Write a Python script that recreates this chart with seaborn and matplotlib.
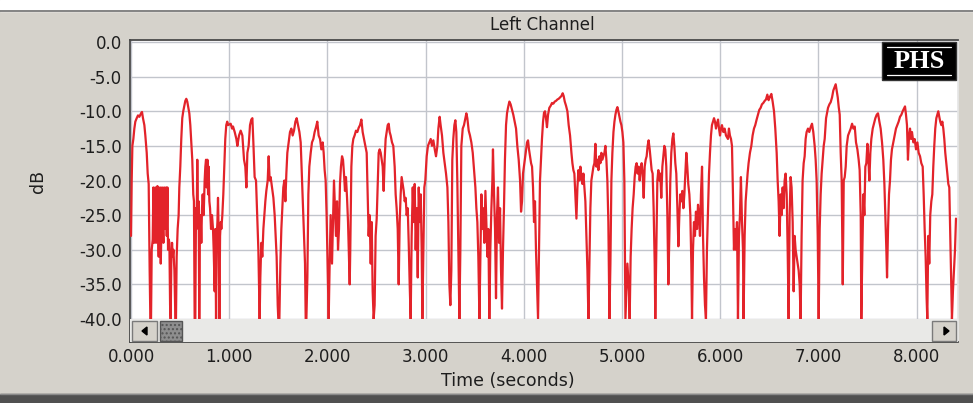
import numpy as np
import pandas as pd
import matplotlib.pyplot as plt
import seaborn as sns
from matplotlib.patches import Rectangle, Polygon
from matplotlib.lines import Line2D

# level readings (time in seconds, level in dB), one list per second of audio
sec_0 = [(0.000, -28), (0.007, -20), (0.014, -15), (0.024, -14), (0.034, -12.5), (0.044, -11.5), (0.058, -11),
         (0.071, -10.6), (0.085, -10.8), (0.102, -10.3), (0.112, -10.1), (0.122, -11), (0.136, -12), (0.146, -13.5),
         (0.160, -16), (0.170, -19), (0.180, -20.5), (0.190, -33), (0.197, -40), (0.204, -40), (0.211, -30),
         (0.221, -28.5), (0.228, -21), (0.235, -29), (0.242, -26), (0.248, -21), (0.255, -29), (0.262, -25),
         (0.269, -20.8), (0.276, -28), (0.282, -31), (0.289, -26), (0.296, -21), (0.303, -32), (0.310, -27),
         (0.316, -21), (0.323, -26), (0.330, -29), (0.337, -21), (0.343, -27), (0.350, -25), (0.357, -21),
         (0.364, -28), (0.371, -21), (0.377, -30), (0.384, -28.5), (0.391, -29), (0.398, -38), (0.404, -40),
         (0.411, -31), (0.418, -29), (0.425, -31), (0.432, -30), (0.442, -33), (0.452, -40), (0.458, -40),
         (0.465, -31), (0.475, -27), (0.485, -25), (0.492, -21), (0.502, -18), (0.512, -14), (0.522, -11),
         (0.532, -10), (0.543, -9.2), (0.553, -8.5), (0.563, -8.2), (0.573, -8.6), (0.584, -9.5), (0.594, -10.3),
         (0.604, -12), (0.614, -14.5), (0.624, -17), (0.634, -22), (0.641, -23), (0.648, -40), (0.655, -40),
         (0.662, -24), (0.668, -27), (0.675, -17), (0.682, -25), (0.689, -23), (0.695, -40), (0.702, -27),
         (0.709, -25), (0.716, -29), (0.723, -24), (0.730, -22), (0.740, -25), (0.750, -20), (0.757, -18),
         (0.764, -17), (0.771, -21), (0.778, -17), (0.785, -22), (0.791, -18), (0.798, -23), (0.805, -24),
         (0.815, -27), (0.825, -25), (0.835, -27), (0.842, -30), (0.852, -36), (0.859, -27), (0.866, -40),
         (0.873, -28), (0.880, -26), (0.886, -22.5), (0.893, -28), (0.900, -40), (0.907, -28), (0.914, -26),
         (0.920, -27), (0.930, -25), (0.940, -22), (0.950, -18), (0.960, -14), (0.970, -12), (0.980, -11.5)]

sec_1 = [(0.988, -12), (1.015, -11.8), (1.029, -12.5), (1.039, -12.2), (1.056, -13), (1.073, -14), (1.083, -15),
         (1.100, -13.5), (1.117, -12.8), (1.134, -13.5), (1.151, -17), (1.164, -18), (1.175, -21), (1.185, -16),
         (1.198, -15), (1.212, -12), (1.225, -11.2), (1.236, -11), (1.246, -14.5), (1.259, -19.5), (1.273, -20),
         (1.287, -26), (1.297, -30), (1.304, -35), (1.310, -40), (1.317, -34), (1.327, -29), (1.337, -31),
         (1.348, -27), (1.358, -25), (1.368, -23), (1.378, -21.5), (1.392, -20), (1.402, -16.5), (1.412, -20),
         (1.422, -19.5), (1.436, -21), (1.450, -22.5), (1.463, -25), (1.473, -28), (1.483, -31), (1.494, -38),
         (1.500, -40), (1.511, -40), (1.521, -32), (1.531, -27), (1.541, -24), (1.551, -21), (1.562, -20),
         (1.572, -23), (1.582, -19), (1.592, -16), (1.606, -14.5), (1.619, -13), (1.633, -12.5), (1.646, -13.5),
         (1.660, -12.8), (1.674, -11.5), (1.687, -11), (1.701, -12), (1.715, -13), (1.728, -14.5), (1.742, -20),
         (1.752, -24), (1.762, -28), (1.772, -32), (1.779, -40), (1.786, -40), (1.796, -34), (1.806, -22),
         (1.816, -18), (1.830, -16), (1.843, -14.5), (1.857, -14), (1.870, -13), (1.884, -12.3), (1.897, -11.5),
         (1.911, -13.5), (1.925, -14), (1.938, -15.5), (1.952, -14.5), (1.962, -16), (1.972, -18.5), (1.982, -20),
         (1.992, -25), (2.002, -32), (2.013, -40), (2.023, -32)]

sec_2 = [(2.033, -25), (2.047, -32), (2.057, -26), (2.067, -20), (2.077, -24), (2.087, -28), (2.098, -23),
         (2.108, -30), (2.118, -27), (2.128, -20.5), (2.138, -18), (2.149, -16.5), (2.159, -17), (2.169, -19),
         (2.179, -21.5), (2.189, -19.5), (2.200, -22.5), (2.210, -26), (2.220, -31), (2.227, -35), (2.233, -30),
         (2.244, -18), (2.254, -15), (2.264, -14), (2.277, -13.5), (2.291, -12.8), (2.305, -13), (2.318, -12.4),
         (2.332, -12), (2.346, -11.2), (2.359, -13), (2.373, -14), (2.386, -15), (2.400, -16), (2.410, -22),
         (2.420, -28), (2.430, -25), (2.441, -32), (2.451, -26), (2.461, -36), (2.471, -40), (2.481, -38),
         (2.491, -28), (2.502, -25.5), (2.512, -21), (2.522, -16), (2.532, -15.5), (2.543, -16), (2.553, -17),
         (2.563, -18), (2.573, -21.5), (2.583, -17), (2.593, -14), (2.604, -13), (2.614, -12), (2.624, -11.8),
         (2.634, -13), (2.644, -13.5), (2.658, -14.5), (2.671, -15), (2.685, -18), (2.695, -22), (2.705, -24),
         (2.716, -27), (2.726, -35), (2.736, -26), (2.746, -22), (2.756, -19.5), (2.767, -20.5), (2.777, -21.5),
         (2.787, -23), (2.797, -22.5), (2.807, -25), (2.818, -24), (2.828, -29), (2.838, -35), (2.848, -40),
         (2.858, -28), (2.869, -21), (2.879, -26), (2.889, -20.5), (2.899, -30), (2.909, -24), (2.920, -34),
         (2.930, -21), (2.940, -26), (2.950, -22), (2.960, -30), (2.967, -40), (2.977, -30), (2.987, -21),
         (2.997, -20), (3.011, -16.5)]

sec_3 = [(3.024, -15), (3.038, -14.5), (3.052, -14), (3.065, -15), (3.079, -14.2), (3.093, -15.5), (3.106, -16.5),
         (3.120, -15), (3.130, -12.5), (3.143, -10.8), (3.153, -12), (3.167, -13.5), (3.181, -16), (3.194, -17.5),
         (3.208, -19), (3.222, -21), (3.232, -26), (3.242, -35), (3.252, -38), (3.262, -33), (3.272, -17),
         (3.282, -14), (3.293, -12), (3.303, -11.3), (3.313, -13), (3.323, -20), (3.333, -30), (3.344, -40),
         (3.354, -30), (3.364, -15), (3.378, -12.5), (3.391, -12), (3.405, -11), (3.415, -10.3), (3.425, -11),
         (3.439, -12.8), (3.452, -13.5), (3.466, -14.5), (3.480, -16), (3.493, -18.5), (3.507, -21), (3.517, -24),
         (3.527, -26), (3.537, -31), (3.548, -40), (3.558, -31), (3.568, -22), (3.578, -27), (3.588, -24),
         (3.598, -29), (3.609, -21.5), (3.619, -26), (3.629, -31), (3.639, -27), (3.649, -40), (3.659, -30),
         (3.670, -24), (3.680, -20), (3.686, -15.5), (3.697, -22), (3.707, -27), (3.717, -37), (3.727, -25),
         (3.737, -21), (3.748, -29), (3.758, -24), (3.768, -33), (3.778, -38.5), (3.788, -30), (3.798, -24),
         (3.808, -17), (3.819, -12), (3.829, -10.3), (3.839, -9.5), (3.853, -8.6), (3.866, -9), (3.880, -9.8),
         (3.893, -10.5), (3.907, -11.5), (3.921, -12.5), (3.934, -15), (3.948, -17), (3.962, -20), (3.972, -24.5),
         (3.982, -23), (3.992, -19), (4.006, -17.5), (4.019, -16), (4.033, -14.5), (4.043, -14.2)]

sec_4 = [(4.053, -15.5), (4.064, -16.5), (4.074, -17.5), (4.084, -18), (4.094, -21), (4.104, -26), (4.114, -23),
         (4.124, -30), (4.134, -35), (4.145, -40), (4.155, -30), (4.165, -20), (4.175, -17), (4.185, -14),
         (4.196, -11.5), (4.206, -10.2), (4.216, -10), (4.226, -11), (4.236, -12.3), (4.247, -10.5), (4.260, -9.5),
         (4.274, -9.2), (4.287, -8.8), (4.301, -8.9), (4.315, -8.6), (4.328, -8.5), (4.342, -8.3), (4.355, -8.2),
         (4.369, -8), (4.383, -7.8), (4.396, -7.4), (4.406, -7.8), (4.417, -8.6), (4.430, -9.2), (4.444, -10),
         (4.457, -12), (4.471, -13.5), (4.485, -16), (4.495, -17.5), (4.505, -18.5), (4.515, -19), (4.525, -22),
         (4.536, -25.5), (4.546, -21), (4.556, -18.5), (4.566, -20), (4.576, -18), (4.587, -19.5), (4.597, -20.5),
         (4.607, -19), (4.617, -21), (4.627, -23), (4.638, -28), (4.648, -33), (4.658, -40), (4.668, -32),
         (4.678, -24), (4.688, -20), (4.699, -19), (4.709, -18), (4.719, -17.5), (4.729, -14.7), (4.739, -18),
         (4.750, -17), (4.760, -18.5), (4.770, -16.5), (4.780, -17.5), (4.790, -16), (4.800, -17), (4.811, -16.5),
         (4.821, -16), (4.831, -15), (4.841, -17), (4.851, -20), (4.861, -26), (4.872, -40), (4.882, -32),
         (4.892, -20), (4.902, -16), (4.913, -13), (4.923, -11.5), (4.933, -10.5), (4.943, -9.8), (4.953, -9.4),
         (4.963, -10), (4.974, -10.8), (4.984, -11.5), (4.994, -12), (5.004, -13), (5.014, -14.5), (5.024, -20),
         (5.035, -40), (5.045, -36), (5.055, -32)]

sec_5 = [(5.071, -36), (5.078, -40), (5.088, -31), (5.098, -27), (5.108, -24), (5.119, -22), (5.129, -19.5),
         (5.139, -18), (5.149, -17.5), (5.159, -19), (5.170, -18), (5.180, -20), (5.190, -18.5), (5.200, -17.5),
         (5.210, -19), (5.221, -22.5), (5.231, -18), (5.241, -17), (5.251, -16.5), (5.261, -15), (5.271, -14.2),
         (5.282, -15.5), (5.292, -17), (5.302, -18.5), (5.312, -19), (5.322, -24), (5.333, -32), (5.339, -40),
         (5.349, -30), (5.360, -20), (5.370, -18.5), (5.380, -20), (5.390, -19), (5.400, -22.5), (5.411, -18),
         (5.421, -16.5), (5.431, -15), (5.441, -15.5), (5.451, -18), (5.462, -25), (5.472, -35), (5.482, -28),
         (5.492, -20), (5.502, -16), (5.513, -14), (5.523, -13.2), (5.533, -15), (5.543, -17.5), (5.553, -19),
         (5.564, -24), (5.574, -29.5), (5.584, -25), (5.594, -22), (5.604, -23), (5.614, -21.5), (5.625, -24),
         (5.635, -22), (5.645, -19), (5.655, -16), (5.665, -18), (5.675, -20.5), (5.686, -22), (5.696, -25),
         (5.706, -32), (5.713, -40), (5.723, -30), (5.733, -26), (5.743, -28), (5.753, -24.5), (5.764, -27),
         (5.774, -23.5), (5.784, -25), (5.794, -28), (5.804, -22), (5.815, -18), (5.825, -28), (5.835, -34),
         (5.845, -38), (5.855, -40), (5.865, -30), (5.876, -24), (5.886, -19), (5.896, -16), (5.906, -13.5),
         (5.916, -12), (5.927, -11.5), (5.937, -11), (5.947, -11.5), (5.957, -12.5), (5.967, -11.8), (5.978, -11.2),
         (5.988, -12.5), (5.998, -13.5), (6.008, -12.5), (6.018, -12), (6.032, -13), (6.045, -12.5), (6.059, -13.5)]

sec_6 = [(6.079, -14), (6.089, -12.5), (6.099, -13.5), (6.110, -14), (6.120, -15), (6.130, -22), (6.140, -30),
         (6.150, -27), (6.160, -30), (6.171, -26), (6.181, -40), (6.191, -28), (6.201, -25), (6.211, -19.5),
         (6.222, -26), (6.232, -30), (6.238, -40), (6.249, -28), (6.259, -23), (6.269, -21), (6.279, -19),
         (6.289, -17.5), (6.303, -16), (6.317, -15), (6.330, -13.5), (6.344, -12.5), (6.357, -12), (6.371, -11.2),
         (6.385, -10.5), (6.398, -9.8), (6.412, -9.5), (6.425, -9), (6.439, -8.8), (6.453, -8.5), (6.466, -8.3),
         (6.480, -7.6), (6.493, -8.4), (6.507, -7.9), (6.521, -7.5), (6.534, -8.6), (6.548, -10), (6.561, -12.5),
         (6.575, -16), (6.585, -20), (6.595, -23), (6.605, -28), (6.616, -22), (6.626, -25), (6.636, -21),
         (6.646, -24), (6.656, -20), (6.666, -19), (6.677, -22), (6.687, -30), (6.697, -40), (6.707, -25),
         (6.717, -19.5), (6.727, -21), (6.738, -26), (6.748, -36), (6.758, -28), (6.768, -30), (6.778, -31),
         (6.789, -32), (6.799, -33), (6.809, -35), (6.819, -40), (6.829, -28), (6.839, -20), (6.850, -17.5),
         (6.860, -16.5), (6.870, -14), (6.880, -13), (6.894, -12.5), (6.907, -13), (6.921, -12.3), (6.935, -11.8),
         (6.948, -13), (6.962, -15), (6.972, -17), (6.982, -20), (6.993, -28), (7.003, -40), (7.013, -27),
         (7.023, -22), (7.033, -19), (7.044, -17), (7.054, -15), (7.064, -14), (7.078, -11), (7.091, -10)]

sec_7 = [(7.098, -9.5), (7.112, -9), (7.125, -8.7), (7.139, -8), (7.152, -7), (7.166, -6.5), (7.176, -6.1),
         (7.186, -7), (7.197, -8), (7.207, -9.4), (7.217, -10.5), (7.227, -16), (7.237, -20), (7.248, -35),
         (7.258, -20), (7.268, -19.5), (7.278, -18), (7.288, -15), (7.302, -13.5), (7.315, -13), (7.329, -12.5),
         (7.343, -11.8), (7.356, -12.5), (7.370, -12.2), (7.383, -14.5), (7.397, -15.5), (7.410, -17), (7.420, -18.5),
         (7.431, -25), (7.437, -40), (7.448, -30), (7.458, -22), (7.468, -25), (7.478, -18), (7.488, -17.5),
         (7.499, -14.7), (7.509, -17), (7.519, -20), (7.529, -16), (7.539, -14), (7.553, -12.5), (7.566, -11.8),
         (7.580, -11), (7.594, -10.5), (7.607, -10.3), (7.621, -11.5), (7.634, -12.5), (7.648, -14.5), (7.661, -17),
         (7.672, -20.5), (7.682, -25), (7.692, -30), (7.699, -34), (7.709, -27), (7.719, -22), (7.729, -20),
         (7.739, -17), (7.749, -15.5), (7.763, -14.5), (7.777, -13.5), (7.790, -12.5), (7.804, -12), (7.817, -11.5),
         (7.831, -10.8), (7.845, -10.5), (7.858, -10), (7.872, -9.6), (7.882, -9.3), (7.892, -10.5), (7.902, -12),
         (7.912, -17), (7.923, -13.5), (7.933, -12.5), (7.943, -14), (7.953, -13), (7.967, -14.5), (7.980, -14),
         (7.994, -15.5), (8.008, -14.5), (8.021, -16), (8.035, -16.5), (8.048, -17.5), (8.062, -18), (8.072, -22),
         (8.082, -27), (8.092, -31), (8.102, -37), (8.109, -40), (8.119, -28), (8.129, -32), (8.139, -25),
         (8.150, -23), (8.160, -22), (8.170, -18), (8.180, -15), (8.190, -12.5), (8.201, -11), (8.211, -10.5),
         (8.221, -10), (8.231, -10.8), (8.241, -11.5), (8.252, -12), (8.262, -11.5), (8.272, -12.5), (8.282, -14),
         (8.292, -16), (8.303, -17.5), (8.313, -19), (8.323, -20.5), (8.333, -21), (8.343, -28), (8.354, -35),
         (8.360, -40), (8.370, -36), (8.381, -33), (8.391, -30), (8.401, -25.5)]

x_ticks = [0, 1, 2, 3, 4, 5, 6, 7, 8]
x_labels = ["0.000", "1.000", "2.000", "3.000", "4.000", "5.000", "6.000", "7.000", "8.000"]
y_ticks = [0, -5, -10, -15, -20, -25, -30, -35, -40]
y_labels = ["0.0", "-5.0", "-10.0", "-15.0", "-20.0", "-25.0", "-30.0", "-35.0", "-40.0"]

rows = []
for sec in [sec_0, sec_1, sec_2, sec_3, sec_4, sec_5, sec_6, sec_7]:
    rows += sec
df = pd.DataFrame(rows, columns=["time", "level"])

W, H = 973, 403
PANEL = "#d5d2cb"


def fx(px):
    return px / W


def fy(py):
    return 1 - py / H


sns.set_theme(style="white")
plt.rcParams["font.family"] = ["DejaVu Sans"]

fig = plt.figure(figsize=(W / 100, H / 100), dpi=100)
fig.patch.set_facecolor(PANEL)

# window chrome
fig.add_artist(Rectangle((0, fy(11)), 1, 11 / H, transform=fig.transFigure, color="white", zorder=0))
fig.add_artist(Line2D([0, 1], [fy(11), fy(11)], transform=fig.transFigure, color="#6e6e6e", lw=1.2))
fig.add_artist(Rectangle((0, 0), 1, 9 / H, transform=fig.transFigure, color="#505050", zorder=0))
fig.add_artist(Line2D([0, 1], [fy(394), fy(394)], transform=fig.transFigure, color="#8a8a8a", lw=1))

ax_l, ax_r, ax_t, ax_b = 130, 958, 40, 342
ax = fig.add_axes([fx(ax_l), fy(ax_b), fx(ax_r - ax_l), (ax_b - ax_t) / H])
ax.set_facecolor("white")

sns.lineplot(data=df, x="time", y="level", estimator=None, sort=False,
             color="#e3232a", linewidth=1.6, ax=ax, zorder=3)

ax.set_xlim(-0.0102, 8.4216)
ax.set_ylim(-43.32, 0.29)
ax.set_xticks(x_ticks)
ax.set_xticklabels(x_labels)
ax.set_yticks(y_ticks)
ax.set_yticklabels(y_labels)
ax.grid(True, color="#c2c5cc", linewidth=1)
ax.set_axisbelow(True)
ax.set_xlabel("")
ax.set_ylabel("")
ax.tick_params(axis="x", direction="in", length=3, width=1, pad=4, color="#303030",
               labelsize=12, labelcolor="#1e1e1e")
ax.tick_params(axis="y", length=0, pad=6, labelsize=12, labelcolor="#1e1e1e")
for side in ["left", "bottom", "top"]:
    ax.spines[side].set_color("#4a4a4a")
    ax.spines[side].set_linewidth(1.3)
ax.spines["right"].set_color("#e6e6e6")


# scrollbar along the bottom of the plot
def ax_pt(px, py):
    return ((px - ax_l) / (ax_r - ax_l), (ax_b - py) / (ax_b - ax_t))


x0, y0 = ax_pt(ax_l, ax_b)
x1, y1 = ax_pt(ax_r, 319)
ax.add_patch(Rectangle((x0, y0), x1 - x0, y1 - y0, transform=ax.transAxes,
                       facecolor="#e9e9e7", edgecolor="none", zorder=5))
for left, right in [(132, 157), (932, 956)]:
    bx0, by0 = ax_pt(left, 341)
    bx1, by1 = ax_pt(right, 321)
    ax.add_patch(Rectangle((bx0, by0), bx1 - bx0, by1 - by0, transform=ax.transAxes,
                           facecolor=PANEL, edgecolor="#7a7a7a", lw=1, zorder=6))
ax.add_patch(Polygon([ax_pt(142, 331), ax_pt(147, 327), ax_pt(147, 335)], closed=True,
                     transform=ax.transAxes, color="black", zorder=7))
ax.add_patch(Polygon([ax_pt(949, 331), ax_pt(944, 327), ax_pt(944, 335)], closed=True,
                     transform=ax.transAxes, color="black", zorder=7))
tx0, ty0 = ax_pt(160, 341)
tx1, ty1 = ax_pt(182, 321)
ax.add_patch(Rectangle((tx0, ty0), tx1 - tx0, ty1 - ty0, transform=ax.transAxes,
                       facecolor="#8e8e8e", edgecolor="#555555", lw=1, hatch="....", zorder=6))

# PHS badge in the top right corner
lx0, ly0 = ax_pt(882, 80)
lx1, ly1 = ax_pt(956, 42)
ax.add_patch(Rectangle((lx0, ly0), lx1 - lx0, ly1 - ly0, transform=ax.transAxes,
                       facecolor="black", edgecolor="#333333", zorder=8))
for py in [47, 75]:
    a = ax_pt(887, py)
    b = ax_pt(951, py)
    ax.add_line(Line2D([a[0], b[0]], [a[1], b[1]], transform=ax.transAxes, color="white", lw=0.9, zorder=9))
cx, cy = ax_pt(919, 61.5)
ax.text(cx, cy, "PHS", transform=ax.transAxes, ha="center", va="center", color="white",
        fontsize=19, fontweight="bold", family=["Liberation Serif", "DejaVu Serif"], zorder=9)

# titles
fig.text(fx(542), fy(25), "Left Channel", ha="center", va="center", fontsize=12, color="#1e1e1e")
fig.text(fx(508), fy(381), "Time (seconds)", ha="center", va="center", fontsize=12.5, color="#1e1e1e")
fig.text(fx(38), fy(181), "dB", ha="center", va="center", rotation=90, fontsize=12.5, color="#1e1e1e")

fig.savefig("out.png", dpi=100, facecolor=fig.get_facecolor())
